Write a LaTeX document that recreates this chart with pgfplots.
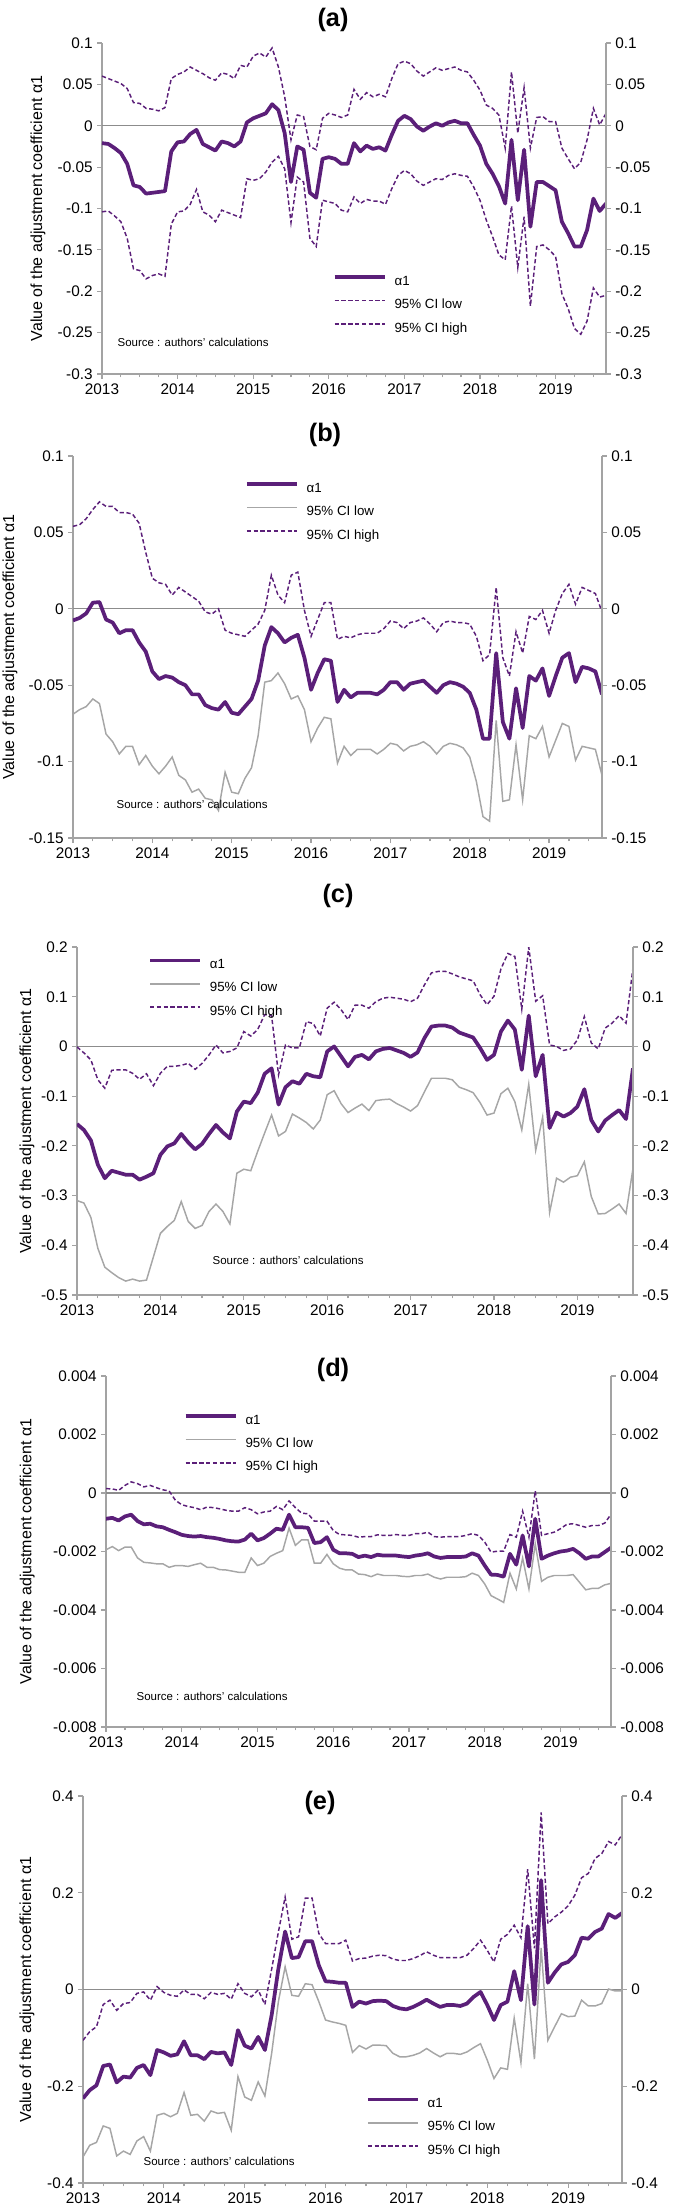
\documentclass[border=0pt]{standalone}
\usepackage{pgfplots}
\pgfplotsset{compat=1.18}
\usepackage{pgfplotstable}
\usepackage{fontspec}
\setmainfont{Liberation Sans}

\definecolor{apurple}{HTML}{5B1F79}
\definecolor{cigray}{HTML}{A6A6A6}
\definecolor{axgray}{HTML}{A3A3A3}
\definecolor{zerogray}{HTML}{8C8C8C}

% columns: month index from Jan 2013, alpha1, 95% CI low, 95% CI high
\pgfplotstableread{
m a lo hi
0 -0.021 -0.104 0.060
1 -0.022 -0.103 0.057
2 -0.027 -0.109 0.054
3 -0.033 -0.116 0.051
4 -0.046 -0.136 0.045
5 -0.072 -0.173 0.028
6 -0.074 -0.175 0.027
7 -0.082 -0.185 0.021
8 -0.081 -0.181 0.020
9 -0.080 -0.179 0.018
10 -0.079 -0.182 0.022
11 -0.031 -0.119 0.057
12 -0.020 -0.104 0.062
13 -0.019 -0.103 0.065
14 -0.010 -0.095 0.071
15 -0.005 -0.077 0.067
16 -0.022 -0.104 0.063
17 -0.026 -0.108 0.058
18 -0.030 -0.116 0.055
19 -0.019 -0.102 0.064
20 -0.021 -0.105 0.062
21 -0.025 -0.108 0.057
22 -0.019 -0.111 0.073
23 0.004 -0.064 0.071
24 0.009 -0.066 0.084
25 0.012 -0.064 0.088
26 0.015 -0.056 0.083
27 0.026 -0.044 0.094
28 0.019 -0.037 0.071
29 -0.009 -0.052 0.035
30 -0.068 -0.117 -0.017
31 -0.025 -0.062 0.013
32 -0.029 -0.068 0.011
33 -0.081 -0.136 -0.025
34 -0.087 -0.146 -0.029
35 -0.040 -0.090 0.009
36 -0.038 -0.092 0.015
37 -0.040 -0.094 0.013
38 -0.046 -0.102 0.010
39 -0.046 -0.104 0.013
40 -0.021 -0.086 0.044
41 -0.031 -0.094 0.032
42 -0.024 -0.089 0.040
43 -0.028 -0.091 0.035
44 -0.026 -0.091 0.038
45 -0.030 -0.095 0.035
46 -0.011 -0.076 0.057
47 0.006 -0.060 0.075
48 0.012 -0.054 0.078
49 0.008 -0.058 0.075
50 -0.001 -0.067 0.066
51 -0.006 -0.072 0.060
52 -0.001 -0.068 0.065
53 0.003 -0.064 0.070
54 0.000 -0.065 0.067
55 0.004 -0.060 0.069
56 0.006 -0.058 0.071
57 0.003 -0.060 0.067
58 0.003 -0.061 0.065
59 -0.011 -0.074 0.055
60 -0.024 -0.090 0.043
61 -0.046 -0.114 0.025
62 -0.058 -0.134 0.021
63 -0.073 -0.156 0.013
64 -0.094 -0.162 -0.027
65 -0.017 -0.097 0.065
66 -0.090 -0.171 -0.009
67 -0.029 -0.110 0.046
68 -0.122 -0.218 -0.027
69 -0.068 -0.146 0.010
70 -0.068 -0.144 0.011
71 -0.073 -0.150 0.005
72 -0.078 -0.158 0.005
73 -0.116 -0.203 -0.027
74 -0.130 -0.221 -0.040
75 -0.146 -0.245 -0.052
76 -0.146 -0.252 -0.044
77 -0.126 -0.236 -0.017
78 -0.088 -0.196 0.021
79 -0.103 -0.207 0.001
80 -0.094 -0.205 0.015
}\tA

\pgfplotstableread{
m a lo hi
0 -0.0076 -0.069 0.054
1 -0.006 -0.066 0.055
2 -0.003 -0.064 0.059
3 0.004 -0.059 0.065
4 0.0044 -0.062 0.070
5 -0.007 -0.082 0.067
6 -0.009 -0.087 0.067
7 -0.016 -0.095 0.063
8 -0.014 -0.090 0.063
9 -0.014 -0.090 0.062
10 -0.022 -0.102 0.056
11 -0.028 -0.096 0.037
12 -0.041 -0.103 0.020
13 -0.046 -0.108 0.017
14 -0.044 -0.103 0.016
15 -0.045 -0.097 0.009
16 -0.048 -0.109 0.014
17 -0.050 -0.112 0.011
18 -0.056 -0.120 0.008
19 -0.056 -0.118 0.005
20 -0.063 -0.124 -0.002
21 -0.065 -0.125 -0.0035
22 -0.066 -0.132 0.000
23 -0.061 -0.107 -0.014
24 -0.068 -0.120 -0.016
25 -0.069 -0.121 -0.017
26 -0.064 -0.111 -0.018
27 -0.059 -0.104 -0.014
28 -0.047 -0.083 -0.010
29 -0.024 -0.048 -0.001
30 -0.012 -0.047 0.022
31 -0.016 -0.042 0.009
32 -0.022 -0.049 0.004
33 -0.019 -0.059 0.022
34 -0.017 -0.057 0.024
35 -0.032 -0.066 -0.001
36 -0.053 -0.087 -0.018
37 -0.042 -0.078 -0.007
38 -0.033 -0.071 0.004
39 -0.034 -0.072 0.004
40 -0.061 -0.101 -0.020
41 -0.053 -0.090 -0.018
42 -0.058 -0.096 -0.019
43 -0.055 -0.092 -0.017
44 -0.055 -0.092 -0.016
45 -0.055 -0.092 -0.016
46 -0.056 -0.095 -0.016
47 -0.053 -0.092 -0.013
48 -0.048 -0.088 -0.008
49 -0.048 -0.089 -0.009
50 -0.053 -0.093 -0.013
51 -0.049 -0.090 -0.009
52 -0.048 -0.089 -0.008
53 -0.047 -0.087 -0.006
54 -0.051 -0.090 -0.010
55 -0.055 -0.095 -0.015
56 -0.050 -0.090 -0.009
57 -0.048 -0.088 -0.008
58 -0.049 -0.089 -0.009
59 -0.051 -0.091 -0.009
60 -0.055 -0.097 -0.010
61 -0.066 -0.113 -0.018
62 -0.085 -0.136 -0.034
63 -0.085 -0.139 -0.030
64 -0.029 -0.073 0.014
65 -0.074 -0.126 -0.032
66 -0.085 -0.125 -0.044
67 -0.052 -0.089 -0.015
68 -0.078 -0.125 -0.029
69 -0.044 -0.083 -0.005
70 -0.047 -0.085 -0.007
71 -0.039 -0.077 -0.001
72 -0.057 -0.097 -0.016
73 -0.044 -0.086 -0.001
74 -0.032 -0.075 0.010
75 -0.029 -0.077 0.016
76 -0.048 -0.099 0.003
77 -0.038 -0.090 0.014
78 -0.039 -0.091 0.012
79 -0.041 -0.092 0.010
80 -0.056 -0.109 -0.002
}\tB

\pgfplotstableread{
m a lo hi
0 -0.156 -0.310 -0.001
1 -0.168 -0.315 -0.013
2 -0.189 -0.344 -0.027
3 -0.238 -0.406 -0.067
4 -0.265 -0.444 -0.084
5 -0.250 -0.455 -0.048
6 -0.254 -0.465 -0.047
7 -0.258 -0.472 -0.047
8 -0.258 -0.468 -0.054
9 -0.268 -0.472 -0.066
10 -0.262 -0.470 -0.055
11 -0.255 -0.423 -0.079
12 -0.218 -0.376 -0.054
13 -0.201 -0.362 -0.040
14 -0.195 -0.350 -0.040
15 -0.176 -0.312 -0.038
16 -0.193 -0.352 -0.034
17 -0.207 -0.366 -0.046
18 -0.196 -0.360 -0.034
19 -0.176 -0.332 -0.017
20 -0.158 -0.317 0.003
21 -0.173 -0.332 -0.013
22 -0.185 -0.357 -0.010
23 -0.131 -0.255 -0.003
24 -0.111 -0.247 0.030
25 -0.114 -0.250 0.021
26 -0.093 -0.211 0.034
27 -0.055 -0.174 0.064
28 -0.044 -0.138 0.062
29 -0.117 -0.180 -0.057
30 -0.082 -0.171 0.003
31 -0.070 -0.136 -0.003
32 -0.075 -0.144 -0.003
33 -0.055 -0.153 0.050
34 -0.060 -0.166 0.046
35 -0.062 -0.148 0.021
36 -0.010 -0.097 0.077
37 0.000 -0.089 0.089
38 -0.020 -0.115 0.074
39 -0.040 -0.133 0.054
40 -0.021 -0.124 0.083
41 -0.017 -0.116 0.083
42 -0.026 -0.129 0.077
43 -0.010 -0.109 0.090
44 -0.005 -0.107 0.097
45 -0.003 -0.106 0.099
46 -0.008 -0.115 0.097
47 -0.013 -0.122 0.095
48 -0.021 -0.130 0.090
49 -0.012 -0.119 0.097
50 0.017 -0.091 0.124
51 0.040 -0.064 0.148
52 0.042 -0.064 0.151
53 0.042 -0.064 0.151
54 0.038 -0.067 0.146
55 0.028 -0.082 0.140
56 0.023 -0.087 0.136
57 0.018 -0.093 0.132
58 -0.003 -0.113 0.104
59 -0.027 -0.138 0.084
60 -0.017 -0.134 0.101
61 0.030 -0.095 0.156
62 0.052 -0.084 0.187
63 0.034 -0.111 0.181
64 -0.047 -0.168 0.075
65 0.062 -0.076 0.200
66 -0.060 -0.209 0.091
67 -0.017 -0.142 0.102
68 -0.164 -0.334 0.003
69 -0.133 -0.265 0.000
70 -0.141 -0.273 -0.008
71 -0.134 -0.263 -0.005
72 -0.121 -0.260 0.013
73 -0.086 -0.232 0.060
74 -0.148 -0.302 0.007
75 -0.171 -0.337 -0.005
76 -0.149 -0.336 0.037
77 -0.138 -0.327 0.047
78 -0.128 -0.317 0.062
79 -0.146 -0.336 0.047
80 -0.044 -0.245 0.158
}\tC

\pgfplotstableread{
m a lo hi
0 -0.00088 -0.00194 0.00015
1 -0.00085 -0.00183 0.00014
2 -0.00094 -0.00197 0.00009
3 -0.00080 -0.00185 0.00026
4 -0.00074 -0.00185 0.00038
5 -0.00096 -0.00222 0.00032
6 -0.00107 -0.00237 0.00021
7 -0.00105 -0.00239 0.00026
8 -0.00114 -0.00242 0.00018
9 -0.00117 -0.00242 0.00011
10 -0.00126 -0.00254 0.00007
11 -0.00134 -0.00248 -0.00025
12 -0.00143 -0.00248 -0.00040
13 -0.00147 -0.00251 -0.00046
14 -0.00149 -0.00245 -0.00050
15 -0.00147 -0.00240 -0.00057
16 -0.00151 -0.00254 -0.00048
17 -0.00153 -0.00254 -0.00050
18 -0.00157 -0.00262 -0.00054
19 -0.00162 -0.00263 -0.00059
20 -0.00165 -0.00267 -0.00062
21 -0.00166 -0.00271 -0.00062
22 -0.00159 -0.00271 -0.00050
23 -0.00139 -0.00222 -0.00057
24 -0.00162 -0.00248 -0.00071
25 -0.00154 -0.00240 -0.00065
26 -0.00139 -0.00217 -0.00062
27 -0.00122 -0.00206 -0.00046
28 -0.00126 -0.00197 -0.00057
29 -0.00074 -0.00120 -0.00027
30 -0.00117 -0.00179 -0.00050
31 -0.00117 -0.00160 -0.00069
32 -0.00119 -0.00160 -0.00071
33 -0.00171 -0.00240 -0.00096
34 -0.00168 -0.00240 -0.00096
35 -0.00151 -0.00210 -0.00096
36 -0.00194 -0.00242 -0.00128
37 -0.00206 -0.00257 -0.00142
38 -0.00206 -0.00263 -0.00143
39 -0.00208 -0.00263 -0.00145
40 -0.00219 -0.00277 -0.00151
41 -0.00214 -0.00279 -0.00149
42 -0.00219 -0.00286 -0.00149
43 -0.00211 -0.00277 -0.00143
44 -0.00214 -0.00282 -0.00145
45 -0.00214 -0.00282 -0.00145
46 -0.00214 -0.00282 -0.00142
47 -0.00217 -0.00285 -0.00145
48 -0.00219 -0.00286 -0.00145
49 -0.00214 -0.00282 -0.00139
50 -0.00211 -0.00282 -0.00139
51 -0.00206 -0.00277 -0.00134
52 -0.00217 -0.00288 -0.00149
53 -0.00222 -0.00294 -0.00151
54 -0.00219 -0.00288 -0.00149
55 -0.00219 -0.00288 -0.00149
56 -0.00219 -0.00288 -0.00149
57 -0.00217 -0.00286 -0.00145
58 -0.00206 -0.00274 -0.00139
59 -0.00214 -0.00282 -0.00145
60 -0.00248 -0.00311 -0.00168
61 -0.00279 -0.00351 -0.00202
62 -0.00280 -0.00362 -0.00199
63 -0.00286 -0.00374 -0.00199
64 -0.00208 -0.00274 -0.00142
65 -0.00245 -0.00328 -0.00151
66 -0.00145 -0.00222 -0.00062
67 -0.00251 -0.00328 -0.00151
68 -0.00088 -0.00174 0.00007
69 -0.00225 -0.00302 -0.00145
70 -0.00214 -0.00288 -0.00139
71 -0.00206 -0.00282 -0.00134
72 -0.00200 -0.00282 -0.00122
73 -0.00197 -0.00282 -0.00107
74 -0.00191 -0.00279 -0.00105
75 -0.00206 -0.00305 -0.00111
76 -0.00225 -0.00331 -0.00117
77 -0.00217 -0.00326 -0.00111
78 -0.00217 -0.00326 -0.00111
79 -0.00202 -0.00314 -0.00103
80 -0.00187 -0.00309 -0.00073
}\tD

\pgfplotstableread{
m a lo hi
0 -0.225 -0.346 -0.105
1 -0.208 -0.322 -0.087
2 -0.198 -0.316 -0.077
3 -0.158 -0.282 -0.031
4 -0.155 -0.287 -0.022
5 -0.192 -0.344 -0.043
6 -0.180 -0.334 -0.029
7 -0.182 -0.341 -0.027
8 -0.162 -0.313 -0.008
9 -0.156 -0.304 -0.005
10 -0.177 -0.334 -0.022
11 -0.125 -0.260 0.006
12 -0.130 -0.256 -0.006
13 -0.137 -0.263 -0.012
14 -0.134 -0.256 -0.014
15 -0.107 -0.213 -0.001
16 -0.136 -0.260 -0.010
17 -0.136 -0.258 -0.010
18 -0.144 -0.272 -0.019
19 -0.129 -0.251 -0.006
20 -0.132 -0.256 -0.010
21 -0.130 -0.254 -0.008
22 -0.156 -0.291 -0.020
23 -0.084 -0.180 0.012
24 -0.116 -0.222 -0.008
25 -0.122 -0.229 -0.015
26 -0.098 -0.191 -0.001
27 -0.125 -0.220 -0.031
28 -0.053 -0.132 0.042
29 0.043 -0.025 0.119
30 0.120 0.047 0.191
31 0.065 -0.012 0.104
32 0.067 -0.014 0.109
33 0.100 0.012 0.189
34 0.100 0.010 0.189
35 0.050 -0.025 0.116
36 0.017 -0.063 0.095
37 0.016 -0.067 0.095
38 0.014 -0.070 0.095
39 0.014 -0.074 0.102
40 -0.036 -0.130 0.059
41 -0.025 -0.116 0.064
42 -0.029 -0.123 0.065
43 -0.024 -0.115 0.069
44 -0.023 -0.115 0.071
45 -0.024 -0.116 0.070
46 -0.034 -0.132 0.063
47 -0.039 -0.139 0.060
48 -0.041 -0.139 0.060
49 -0.036 -0.136 0.064
50 -0.029 -0.131 0.070
51 -0.021 -0.122 0.078
52 -0.029 -0.131 0.071
53 -0.036 -0.139 0.066
54 -0.032 -0.132 0.066
55 -0.032 -0.132 0.066
56 -0.034 -0.134 0.066
57 -0.029 -0.129 0.071
58 -0.015 -0.120 0.085
59 -0.005 -0.112 0.102
60 -0.032 -0.146 0.081
61 -0.063 -0.184 0.057
62 -0.032 -0.162 0.104
63 -0.025 -0.165 0.114
64 0.038 -0.059 0.133
65 -0.022 -0.151 0.107
66 0.131 0.012 0.249
67 -0.031 -0.144 0.085
68 0.226 0.086 0.366
69 0.014 -0.105 0.136
70 0.035 -0.077 0.150
71 0.052 -0.050 0.160
72 0.057 -0.056 0.173
73 0.071 -0.055 0.195
74 0.107 -0.022 0.231
75 0.105 -0.034 0.240
76 0.119 -0.034 0.271
77 0.126 -0.029 0.281
78 0.156 0.001 0.306
79 0.148 -0.003 0.299
80 0.158 -0.003 0.320
}\tE

\pgfplotsset{
  base/.style={
    scale only axis, anchor=south west,
    xmin=0, xmax=80,
    scaled y ticks=false,
    axis line style={axgray, line width=0.9pt},
    tick style={axgray, line width=0.9pt},
    tick align=outside,
    major tick length=3.5pt, minor tick length=2.5pt,
    ticklabel style={font=\fontsize{11.5}{13}\selectfont},
  },
  panel/.style={
    base,
    axis x line*=bottom, axis y line*=left,
    xtick={0,12,24,36,48,60,72},
    xticklabels={2013,2014,2015,2016,2017,2018,2019},
    minor xtick={0,3,...,78},
    ylabel={Value of the adjustment coefficient α1},
    ylabel style={font=\fontsize{12}{14}\selectfont, anchor=center},
    reverse legend,
    legend cell align=left,
    legend image code/.code={\draw[##1] (0pt,3.5pt) -- (37.5pt,3.5pt);},
    legend style={draw=none, fill=none, anchor=north west,
      inner sep=0pt, outer sep=0pt, row sep=7.5pt,
      font=\fontsize{10}{12}\selectfont,
      nodes={inner sep=0pt, text height=7.5pt, text depth=2.5pt},
      /tikz/every odd column/.append style={column sep=6pt}},
  },
  rpanel/.style={base, axis x line=none, axis y line*=right},
  al/.style={apurple, line width=2.8pt, line join=round},
  lo/.style={cigray, line width=1.1pt},
  hi/.style={apurple, line width=1.1pt, dash pattern=on 3.2pt off 1.9pt},
}

\newcommand{\srcfont}{\fontsize{8.6}{10}\selectfont}
\newcommand{\ttlfont}{\fontsize{19}{22}\selectfont\bfseries}

\begin{document}
\begin{tikzpicture}
\useasboundingbox (0,0) rectangle (504.75pt,-1659pt);

% ---------- (a) ----------
\node[font=\ttlfont] at (249.75pt,-15pt) {(a)};
\begin{axis}[panel, at={(76.5pt,-280.5pt)}, width=378pt, height=248.25pt,
  ymin=-0.3, ymax=0.1,
  ytick={-0.3,-0.25,-0.2,-0.15,-0.1,-0.05,0,0.05,0.1},
  yticklabels={-0.3,-0.25,-0.2,-0.15,-0.1,-0.05,0,0.05,0.1},
  ylabel style={at={(axis description cs:-0.127,0.5)}},
  legend style={at={(axis description cs:0.458,0.298)}}]
\draw[zerogray, line width=0.9pt] (axis cs:0,0) -- (axis cs:80,0);
\addplot[hi] table[x=m,y=hi]{\tA}; \addlegendentry{95\% CI high}
\addplot[hi] table[x=m,y=lo]{\tA}; \addlegendentry{95\% CI low}
\addplot[al] table[x=m,y=a]{\tA}; \addlegendentry{α1}
\end{axis}
\begin{axis}[rpanel, at={(76.5pt,-280.5pt)}, width=378pt, height=248.25pt,
  ymin=-0.3, ymax=0.1,
  ytick={-0.3,-0.25,-0.2,-0.15,-0.1,-0.05,0,0.05,0.1},
  yticklabels={-0.3,-0.25,-0.2,-0.15,-0.1,-0.05,0,0.05,0.1}]
\end{axis}
\node[font=\srcfont, anchor=west] at (84.75pt,-256.5pt) {Source : authors' calculations};

% ---------- (b) ----------
\node[font=\ttlfont] at (243.75pt,-326.25pt) {(b)};
\begin{axis}[panel, at={(54.75pt,-628.5pt)}, width=396.75pt, height=286.5pt,
  ymin=-0.15, ymax=0.1,
  ytick={-0.15,-0.1,-0.05,0,0.05,0.1},
  yticklabels={-0.15,-0.1,-0.05,0,0.05,0.1},
  ylabel style={at={(axis description cs:-0.119,0.5)}},
  legend style={at={(axis description cs:0.325,0.931)}}]
\draw[zerogray, line width=0.9pt] (axis cs:0,0) -- (axis cs:80,0);
\addplot[hi] table[x=m,y=hi]{\tB}; \addlegendentry{95\% CI high}
\addplot[lo] table[x=m,y=lo]{\tB}; \addlegendentry{95\% CI low}
\addplot[al] table[x=m,y=a]{\tB}; \addlegendentry{α1}
\end{axis}
\begin{axis}[rpanel, at={(54.75pt,-628.5pt)}, width=396.75pt, height=286.5pt,
  ymin=-0.15, ymax=0.1,
  ytick={-0.15,-0.1,-0.05,0,0.05,0.1},
  yticklabels={-0.15,-0.1,-0.05,0,0.05,0.1}]
\end{axis}
\node[font=\srcfont, anchor=west] at (84pt,-603pt) {Source : authors' calculations};

% ---------- (c) ----------
\node[font=\ttlfont] at (253.5pt,-672pt) {(c)};
\begin{axis}[panel, at={(57.75pt,-971.25pt)}, width=417pt, height=261pt,
  ymin=-0.5, ymax=0.2,
  ytick={-0.5,-0.4,-0.3,-0.2,-0.1,0,0.1,0.2},
  yticklabels={-0.5,-0.4,-0.3,-0.2,-0.1,0,0.1,0.2},
  ylabel style={at={(axis description cs:-0.090,0.5)}},
  legend style={at={(axis description cs:0.128,0.967)}}]
\draw[zerogray, line width=0.9pt] (axis cs:0,0) -- (axis cs:80,0);
\addplot[hi] table[x=m,y=hi]{\tC}; \addlegendentry{95\% CI high}
\addplot[lo] table[x=m,y=lo]{\tC}; \addlegendentry{95\% CI low}
\addplot[al] table[x=m,y=a]{\tC}; \addlegendentry{α1}
\end{axis}
\begin{axis}[rpanel, at={(57.75pt,-971.25pt)}, width=417pt, height=261pt,
  ymin=-0.5, ymax=0.2,
  ytick={-0.5,-0.4,-0.3,-0.2,-0.1,0,0.1,0.2},
  yticklabels={-0.5,-0.4,-0.3,-0.2,-0.1,0,0.1,0.2}]
\end{axis}
\node[font=\srcfont, anchor=west] at (156pt,-945pt) {Source : authors' calculations};

% ---------- (d) ----------
\node[font=\ttlfont] at (249.75pt,-1027.5pt) {(d)};
\begin{axis}[panel, at={(79.5pt,-1295.25pt)}, width=378.75pt, height=263.25pt,
  ymin=-0.008, ymax=0.004,
  ytick={-0.008,-0.006,-0.004,-0.002,0,0.002,0.004},
  yticklabels={-0.008,-0.006,-0.004,-0.002,0,0.002,0.004},
  ylabel style={at={(axis description cs:-0.156,0.5)}},
  legend style={at={(axis description cs:0.154,0.891)}}]
\draw[zerogray, line width=0.9pt] (axis cs:0,0) -- (axis cs:80,0);
\addplot[hi] table[x=m,y=hi]{\tD}; \addlegendentry{95\% CI high}
\addplot[lo] table[x=m,y=lo]{\tD}; \addlegendentry{95\% CI low}
\addplot[al] table[x=m,y=a]{\tD}; \addlegendentry{α1}
\end{axis}
\begin{axis}[rpanel, at={(79.5pt,-1295.25pt)}, width=378.75pt, height=263.25pt,
  ymin=-0.008, ymax=0.004,
  ytick={-0.008,-0.006,-0.004,-0.002,0,0.002,0.004},
  yticklabels={-0.008,-0.006,-0.004,-0.002,0,0.002,0.004}]
\end{axis}
\node[font=\srcfont, anchor=west] at (99pt,-1272pt) {Source : authors' calculations};

% ---------- (e) ----------
\node[font=\ttlfont] at (240pt,-1352.25pt) {(e)};
\begin{axis}[panel, at={(62.25pt,-1637.25pt)}, width=404.25pt, height=290.25pt,
  ymin=-0.4, ymax=0.4,
  ytick={-0.4,-0.2,0,0.2,0.4},
  yticklabels={-0.4,-0.2,0,0.2,0.4},
  ylabel style={at={(axis description cs:-0.104,0.5)}},
  legend style={at={(axis description cs:0.525,0.221)}}]
\draw[zerogray, line width=0.9pt] (axis cs:0,0) -- (axis cs:80,0);
\addplot[hi] table[x=m,y=hi]{\tE}; \addlegendentry{95\% CI high}
\addplot[lo] table[x=m,y=lo]{\tE}; \addlegendentry{95\% CI low}
\addplot[al] table[x=m,y=a]{\tE}; \addlegendentry{α1}
\end{axis}
\begin{axis}[rpanel, at={(62.25pt,-1637.25pt)}, width=404.25pt, height=290.25pt,
  ymin=-0.4, ymax=0.4,
  ytick={-0.4,-0.2,0,0.2,0.4},
  yticklabels={-0.4,-0.2,0,0.2,0.4}]
\end{axis}
\node[font=\srcfont, anchor=west] at (104.25pt,-1620.75pt) {Source : authors' calculations};

\end{tikzpicture}
\end{document}
